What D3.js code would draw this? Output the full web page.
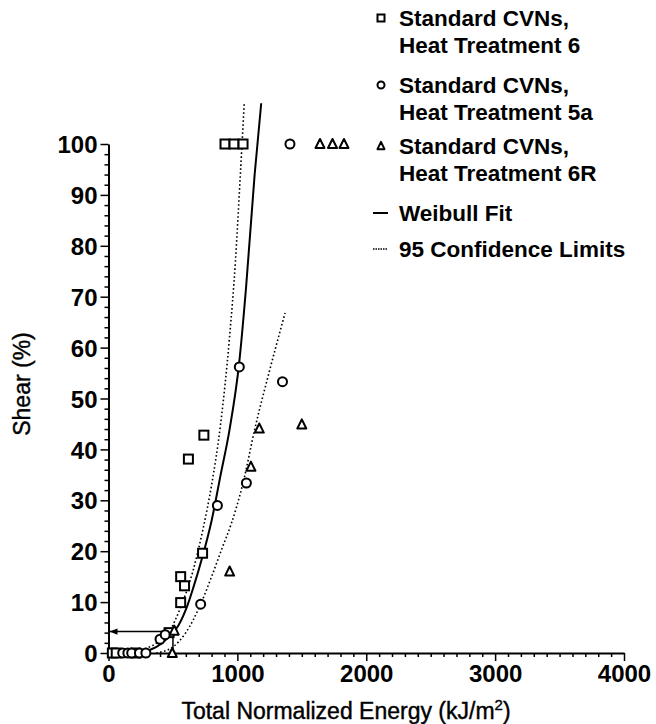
<!DOCTYPE html>
<html>
<head>
<meta charset="utf-8">
<script src="https://cdn.jsdelivr.net/npm/d3@7"></script>
<style>
  body { margin: 0; background: #fff; }
  text { font-family: "Liberation Sans", Arial, Helvetica, sans-serif; fill: #000; }
</style>
</head>
<body>
<div id="chart"></div>
<script>
// points: [energy kJ/m2, shear %]
const ht6 = [[30,0],[60,0],[210,0],[470,4.0],[560,9.9],[560,15],[590,13.2],[620,38.1],
  [730,19.6],[740,42.8],[904,100],[974,100],[1044,100]];
const ht5a = [[110,0],[150,0],[180,0],[240,0],[290,0],[400,2.7],[440,3.6],[715,9.6],
  [845,29],[1015,56.2],[1070,33.4],[1350,53.3],[1408,100]];
const ht6R = [[495,0],[510,4.4],[940,16],[1105,36.6],[1170,44.1],[1500,44.9],
  [1641,100],[1738,100],[1827,100]];

// curves
const weibullFit = [[150,0],[250,0.2],[320,0.6],[420,2],[480,3.5],[540,5.3],[600,8.5],
  [660,13],[730,19],[800,26],[870,35],[940,44],[1014,57],[1068,72],[1134,94],[1185,108]];
const upperLimit = [[100,0],[240,0.5],[400,2.5],[477,4.5],[560,9],[654,16],[732,24.2],
  [800,33],[870,45],[939,62],[985,77],[1021,93],[1053,108]];
const lowerLimit = [[370,0],[500,1.2],[600,4],[715,9.6],[800,15],[880,20.5],[950,25.2],
  [1045,33.5],[1136,44.1],[1250,55.5],[1370,66.8]];

const arrowPoint = [500, 4.2];

const xTicks = [0, 1000, 2000, 3000, 4000];
const yTicks = [0, 10, 20, 30, 40, 50, 60, 70, 80, 90, 100];

const legendLabels = [
  ["Standard CVNs,", "Heat Treatment 6"],
  ["Standard CVNs,", "Heat Treatment 5a"],
  ["Standard CVNs,", "Heat Treatment 6R"],
  ["Weibull Fit"],
  ["95 Confidence Limits"]
];

const width = 656, height = 724;

const x = d3.scaleLinear().domain([0, 4000]).range([108.5, 624]);
const y = d3.scaleLinear().domain([0, 100]).range([653, 144]);

const svg = d3.select("#chart").append("svg")
  .attr("width", width)
  .attr("height", height);

svg.append("defs").append("marker")
  .attr("id", "arrowhead")
  .attr("viewBox", "0 0 10 10")
  .attr("refX", 10).attr("refY", 5)
  .attr("markerWidth", 10).attr("markerHeight", 8)
  .attr("markerUnits", "userSpaceOnUse")
  .attr("orient", "auto")
  .append("path")
  .attr("d", "M0,1 L10,5 L0,9 Z")
  .attr("fill", "#000");

// axes
const xAxis = d3.axisBottom(x).tickValues(d3.range(0, 4001, 100))
  .tickSize(0).tickFormat("");
const gx = svg.append("g").attr("transform", `translate(0,${y(0)})`).call(xAxis);
gx.select(".domain").attr("stroke-width", 2);
gx.selectAll(".tick line")
  .attr("y2", d => (d % 1000 === 0 ? 8 : 4))
  .attr("stroke-width", 1.5);
gx.selectAll(".tick")
  .filter(d => xTicks.includes(d))
  .append("text")
  .attr("y", 29)
  .attr("text-anchor", "middle")
  .style("font-size", "24px")
  .style("font-weight", "bold")
  .text(d => d);

const yAxis = d3.axisLeft(y).tickValues(d3.range(0, 101, 2))
  .tickSize(0).tickFormat("");
const gy = svg.append("g").attr("transform", `translate(${x(0)},0)`).call(yAxis);
gy.select(".domain").attr("stroke-width", 2);
gy.selectAll(".tick line")
  .attr("x2", d => (d % 10 === 0 ? -8 : -4))
  .attr("stroke-width", 1.5);
gy.selectAll(".tick")
  .filter(d => yTicks.includes(d))
  .append("text")
  .attr("x", -11)
  .attr("dy", "0.36em")
  .attr("text-anchor", "end")
  .style("font-size", "24px")
  .style("font-weight", "bold")
  .text(d => d);

svg.selectAll(".domain").attr("stroke", "#000");
svg.selectAll(".tick line").attr("stroke", "#000");

// axis titles
svg.append("text")
  .attr("x", 346)
  .attr("y", 719)
  .attr("text-anchor", "middle")
  .style("font-size", "23px")
  .style("stroke", "#000").style("stroke-width", 0.4)
  .html('Total Normalized Energy (kJ/m<tspan dy="-9" style="font-size:15px">2</tspan><tspan dy="9">)</tspan>');

svg.append("text")
  .attr("transform", `translate(30,384) rotate(-90)`)
  .attr("text-anchor", "middle")
  .style("font-size", "23px")
  .style("stroke", "#000").style("stroke-width", 0.4)
  .text("Shear (%)");

// arrow marking 500 kJ/m2
svg.append("path")
  .attr("d", `M${x(arrowPoint[0])},${y(0)} L${x(arrowPoint[0])},${y(arrowPoint[1])} L${x(0) + 1},${y(arrowPoint[1])}`)
  .attr("fill", "none")
  .attr("stroke", "#000")
  .attr("stroke-width", 1.5)
  .attr("marker-end", "url(#arrowhead)");

// curves
const line = d3.line().x(d => x(d[0])).y(d => y(d[1])).curve(d3.curveMonotoneX);

svg.append("path").datum(weibullFit)
  .attr("d", line)
  .attr("fill", "none").attr("stroke", "#000").attr("stroke-width", 2);

[upperLimit, lowerLimit].forEach(c => {
  svg.append("path").datum(c)
    .attr("d", line)
    .attr("fill", "none").attr("stroke", "#000")
    .attr("stroke-width", 1.6)
    .attr("stroke-dasharray", "1.6,2.4");
});

// markers
const sq = 9, circR = 4.5;
function drawSquare(g, cx, cy, s) {
  g.append("rect")
    .attr("x", cx - s / 2).attr("y", cy - s / 2)
    .attr("width", s).attr("height", s)
    .attr("fill", "#fff").attr("stroke", "#000").attr("stroke-width", 2);
}
function drawCircle(g, cx, cy, r) {
  g.append("circle")
    .attr("cx", cx).attr("cy", cy).attr("r", r)
    .attr("fill", "#fff").attr("stroke", "#000").attr("stroke-width", 2);
}
function drawTriangle(g, cx, cy, s) {
  const h = s * 0.9;
  g.append("path")
    .attr("d", `M${cx},${cy - h / 2 - 1} L${cx + s / 2},${cy + h / 2} L${cx - s / 2},${cy + h / 2} Z`)
    .attr("fill", "#fff").attr("stroke", "#000").attr("stroke-width", 2)
    .attr("stroke-linejoin", "round");
}

const pts = svg.append("g");
ht6.forEach(d => drawSquare(pts, x(d[0]), y(d[1]), sq));
ht5a.forEach(d => drawCircle(pts, x(d[0]), y(d[1]), circR));
ht6R.forEach(d => drawTriangle(pts, x(d[0]), y(d[1]), 9));

// legend
const lg = svg.append("g");
const rowY = [18, 85, 146, 213, 249];
const mx = 381, tx = 399;
legendLabels.forEach((lines, i) => {
  lines.forEach((t, j) => {
    lg.append("text")
      .attr("x", tx)
      .attr("y", rowY[i] + j * 27)
      .attr("dy", "0.36em")
      .style("font-size", "22.5px")
      .style("font-weight", "bold")
      .text(t);
  });
});
drawSquare(lg, mx, rowY[0], 7);
drawCircle(lg, mx, rowY[1], 3.5);
drawTriangle(lg, mx, rowY[2], 7);
lg.append("line")
  .attr("x1", mx - 8).attr("x2", mx + 7)
  .attr("y1", rowY[3]).attr("y2", rowY[3])
  .attr("stroke", "#000").attr("stroke-width", 2);
lg.append("line")
  .attr("x1", mx - 8).attr("x2", mx + 7)
  .attr("y1", rowY[4]).attr("y2", rowY[4])
  .attr("stroke", "#000").attr("stroke-width", 1.5)
  .attr("stroke-dasharray", "1.5,1");
</script>
</body>
</html>
